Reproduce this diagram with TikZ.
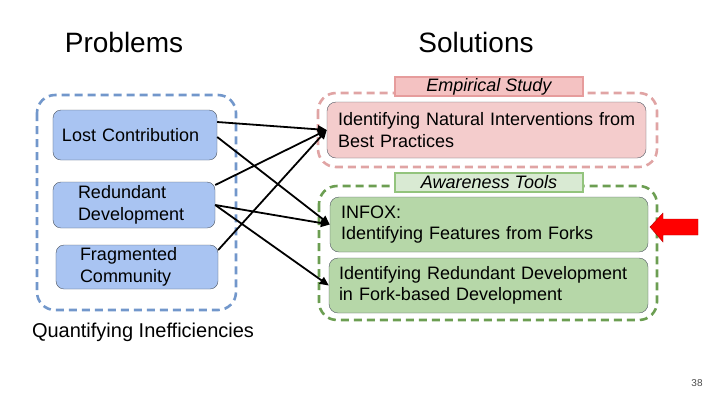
\documentclass[tikz,border=0pt]{standalone}
\usepackage{fontspec}
\setmainfont{Liberation Sans}
\usetikzlibrary{arrows.meta, positioning, calc}
\definecolor{ProbFill}{HTML}{A9C4F2}
\definecolor{ProbDash}{HTML}{7297CB}
\definecolor{EmpFill}{HTML}{F4CCCC}
\definecolor{EmpDash}{HTML}{E0A4A4}
\definecolor{EmpTag}{HTML}{F4C2C2}
\definecolor{EmpTagLine}{HTML}{E69C9C}
\definecolor{ToolFill}{HTML}{B6D7A8}
\definecolor{ToolDash}{HTML}{6C9E52}
\definecolor{ToolTag}{HTML}{D9EAD3}
\definecolor{ToolTagLine}{HTML}{93C47D}
\definecolor{BoxLine}{HTML}{4E5560}
\tikzset{
  pbox/.style={draw=BoxLine, thin, rounded corners=8bp, fill=ProbFill, align=left,
    font=\fontsize{18bp}{21.6bp}\selectfont, inner ysep=0pt},
  ebox/.style={draw=BoxLine, thin, rounded corners=9bp, fill=EmpFill, align=left,
    font=\fontsize{18bp}{21.6bp}\selectfont, inner ysep=0pt},
  tbox/.style={draw=BoxLine, thin, rounded corners=9bp, fill=ToolFill, align=left,
    font=\fontsize{18bp}{21.6bp}\selectfont, inner ysep=0pt},
  group/.style={dashed, dash pattern=on 8bp off 5bp, line width=2.6bp, rounded corners=18bp},
  tag/.style={line width=2bp, inner sep=0pt, font=\fontsize{18bp}{21.6bp}\selectfont\itshape},
  heading/.style={font=\fontsize{28bp}{32bp}\selectfont, inner sep=0pt},
  link/.style={-{Triangle[length=9bp, width=8bp]}, line width=1.8bp, draw=black},
}

\begin{document}
\begin{tikzpicture}[x=1bp, y=-1bp]
    \useasboundingbox (0,0) rectangle (720,405);
    % column headings
    \node[heading] (prob) at (124,42) {Problems};
    \node[heading] (sol) at (476,42) {Solutions};

    % problems
    \draw[group, draw=ProbDash] (37,95) rectangle (236,310);
    \node[pbox, minimum width=164bp, minimum height=50bp, text width=146bp, inner xsep=9bp]
      (lost) at (135,135) {Lost Contribution};
    \node[pbox, minimum width=162bp, minimum height=46bp, text width=112bp, inner xsep=25bp]
      (redund) at (134,205) {Redundant\\Development};
    \node[pbox, minimum width=162bp, minimum height=44bp, text width=114bp, inner xsep=24bp]
      (frag) at (137,267) {Fragmented\\Community};
    \node[font=\fontsize{20bp}{24bp}\selectfont, inner sep=0pt] (quant) at (143,332) {Quantifying Inefficiencies};

    % solutions
    \draw[group, draw=EmpDash] (318,93) rectangle (657,167);
    \node[tag, draw=EmpTagLine, fill=EmpTag, minimum width=188bp, minimum height=19bp]
      (emp) at (489,86.5) {Empirical Study};
    \node[ebox, minimum width=319bp, minimum height=56bp, text width=297bp, inner xsep=11bp]
      (natural) at (486.5,130) {\mbox{Identifying Natural Interventions from}\\Best Practices};

    \draw[group, draw=ToolDash] (319,186) rectangle (657,320);
    \node[tag, draw=ToolTagLine, fill=ToolTag, minimum width=188bp, minimum height=19bp]
      (aware) at (489,182) {Awareness Tools};
    \node[tbox, minimum width=318bp, minimum height=55bp, text width=296bp, inner xsep=11bp]
      (infox) at (489,224.5) {INFOX:\\Identifying Features from Forks};
    \node[tbox, minimum width=319bp, minimum height=55bp, text width=299bp, inner xsep=10bp]
      (rdev) at (488.5,285.5) {\mbox{Identifying Redundant Development}\\in Fork-based Development};

    % links
    \draw[link] ([yshift=13bp]lost.east) -- (natural.west);
    \draw[link] ([yshift=-2bp]lost.east) -- (infox.west);
    \draw[link] ([yshift=20bp]redund.east) -- (natural.west);
    \draw[link] (redund.east) -- (infox.west);
    \draw[link] (redund.east) -- (rdev.west);
    \draw[link] ([yshift=17bp]frag.east) -- (natural.west);

    % pointer
    \filldraw[fill=red, draw=red!70!black, thin]
      (650,227) -- (663,213) -- (663,219) -- (698,219) -- (698,235) -- (663,235) -- (663,242) -- cycle;

    \node[font=\fontsize{10bp}{12bp}\selectfont, text=black!70, inner sep=0pt] (page) at (697,383) {38};
\end{tikzpicture}
\end{document}
